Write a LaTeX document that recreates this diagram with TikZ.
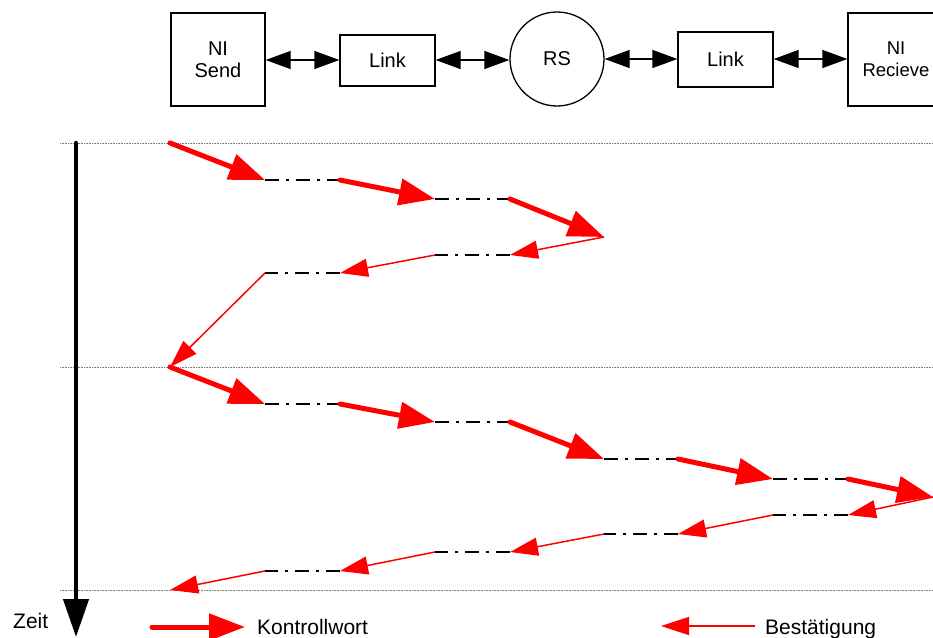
\documentclass[tikz,border=0pt]{standalone}
\usepackage{fontspec}
\setmainfont{Liberation Sans}
\usetikzlibrary{arrows.meta}
\begin{document}
\begin{tikzpicture}[x=1pt,y=-1pt,
  box/.style={draw,line width=1.3pt,align=center,inner sep=0pt,font=\fontsize{20}{22.5}\selectfont},
  biarrow/.style={line width=1.3pt,{Triangle[length=25pt,width=18pt]}-{Triangle[length=25pt,width=18pt]}},
  ctrl/.style={draw=red,line width=5pt,line cap=round,-{Triangle[length=36pt,width=26pt]}},
  ack/.style={draw=red,line width=1.5pt,-{Triangle[length=28pt,width=18pt]}},
  hold/.style={draw=black,line width=2pt,dash pattern=on 14pt off 7pt on 3pt off 7pt},
  tgrid/.style={draw=gray,line width=0.8pt,dash pattern=on 1pt off 0.6pt},
  lbl/.style={font=\fontsize{21}{24}\selectfont,inner sep=0pt}]
\useasboundingbox (0,0) rectangle (933,637);
\clip (0,0) rectangle (933,637);

% components of the path
\node[box,minimum width=94pt,minimum height=93pt] (send) at (218,59.5) {NI\\Send};
\node[box,minimum width=95pt,minimum height=51pt] (linkA) at (387.5,60.5) {Link};
\node[box,circle,minimum size=94pt] (rs) at (557,59) {RS};
\node[box,minimum width=95pt,minimum height=55pt] (linkB) at (725.5,59.5) {Link};
\node[box,minimum width=96pt,minimum height=93pt,font=\fontsize{18.5}{22}\selectfont] (recv) at (896,59.5) {NI\\Recieve};

\draw[biarrow] (send.east |- 0,60) -- (linkA.west |- 0,60);
\draw[biarrow] (linkA.east |- 0,60) -- (rs.west |- 0,60);
\draw[biarrow] (rs.east |- 0,59) -- (linkB.west |- 0,59);
\draw[biarrow] (linkB.east |- 0,59) -- (recv.west |- 0,59);

% time grid
\foreach \y/\n in {143/1,367/2,590/3}{
  \coordinate (gl\n) at (60,\y);
  \coordinate (gr\n) at (933,\y);
  \draw[tgrid] (gl\n) -- (gr\n);
}

% time axis
\coordinate (t0) at (76,143);
\coordinate (t1) at (76,637);
\draw[line width=4.5pt,line cap=round,-{Triangle[length=38pt,width=25pt]}] (t0) -- (t1);
\node[lbl,anchor=base west] (zeit) at (13,628) {Zeit};

% first transfer
\coordinate (s0) at (170,143);
\coordinate (a1) at (265,180); \coordinate (b1) at (340,180);
\coordinate (a2) at (435,199); \coordinate (b2) at (510,199);
\coordinate (a3) at (604,237);
\coordinate (r2) at (510,255); \coordinate (q2) at (435,255);
\coordinate (r1) at (340,273); \coordinate (q1) at (265,273);
\coordinate (s1) at (170,367);

\draw[ctrl] (s0) -- (a1);
\draw[hold] (a1) -- (b1);
\draw[ctrl] (b1) -- (a2);
\draw[hold] (a2) -- (b2);
\draw[ctrl] (b2) -- (a3);
\draw[ack] (a3) -- (r2);
\draw[hold] (r2) -- (q2);
\draw[ack] (q2) -- (r1);
\draw[hold] (r1) -- (q1);
\draw[ack] (q1) -- (s1);

% second transfer
\coordinate (d1) at (265,404); \coordinate (e1) at (340,404);
\coordinate (d2) at (435,422); \coordinate (e2) at (510,422);
\coordinate (d3) at (604,459); \coordinate (e3) at (678,459);
\coordinate (d4) at (773,479); \coordinate (e4) at (848,479);
\coordinate (d5) at (933,497);
\coordinate (g4) at (848,515); \coordinate (h4) at (773,515);
\coordinate (g3) at (678,534); \coordinate (h3) at (604,534);
\coordinate (g2) at (510,552); \coordinate (h2) at (435,552);
\coordinate (g1) at (340,571); \coordinate (h1) at (265,571);
\coordinate (s2) at (170,590);

\draw[ctrl] (s1) -- (d1);
\draw[hold] (d1) -- (e1);
\draw[ctrl] (e1) -- (d2);
\draw[hold] (d2) -- (e2);
\draw[ctrl] (e2) -- (d3);
\draw[hold] (d3) -- (e3);
\draw[ctrl] (e3) -- (d4);
\draw[hold] (d4) -- (e4);
\draw[ctrl] (e4) -- (d5);
\draw[ack] (d5) -- (g4);
\draw[hold] (g4) -- (h4);
\draw[ack] (h4) -- (g3);
\draw[hold] (g3) -- (h3);
\draw[ack] (h3) -- (g2);
\draw[hold] (g2) -- (h2);
\draw[ack] (h2) -- (g1);
\draw[hold] (g1) -- (h1);
\draw[ack] (h1) -- (s2);

% legend
\coordinate (k0) at (152,627); \coordinate (k1) at (245,627);
\draw[ctrl] (k0) -- (k1);
\node[lbl,anchor=base west] (kw) at (257,634) {Kontrollwort};
\coordinate (b0) at (755,626); \coordinate (b1l) at (661,626);
\draw[ack] (b0) -- (b1l);
\node[lbl,anchor=base west] (bs) at (765,634) {Bestätigung};
\end{tikzpicture}
\end{document}
